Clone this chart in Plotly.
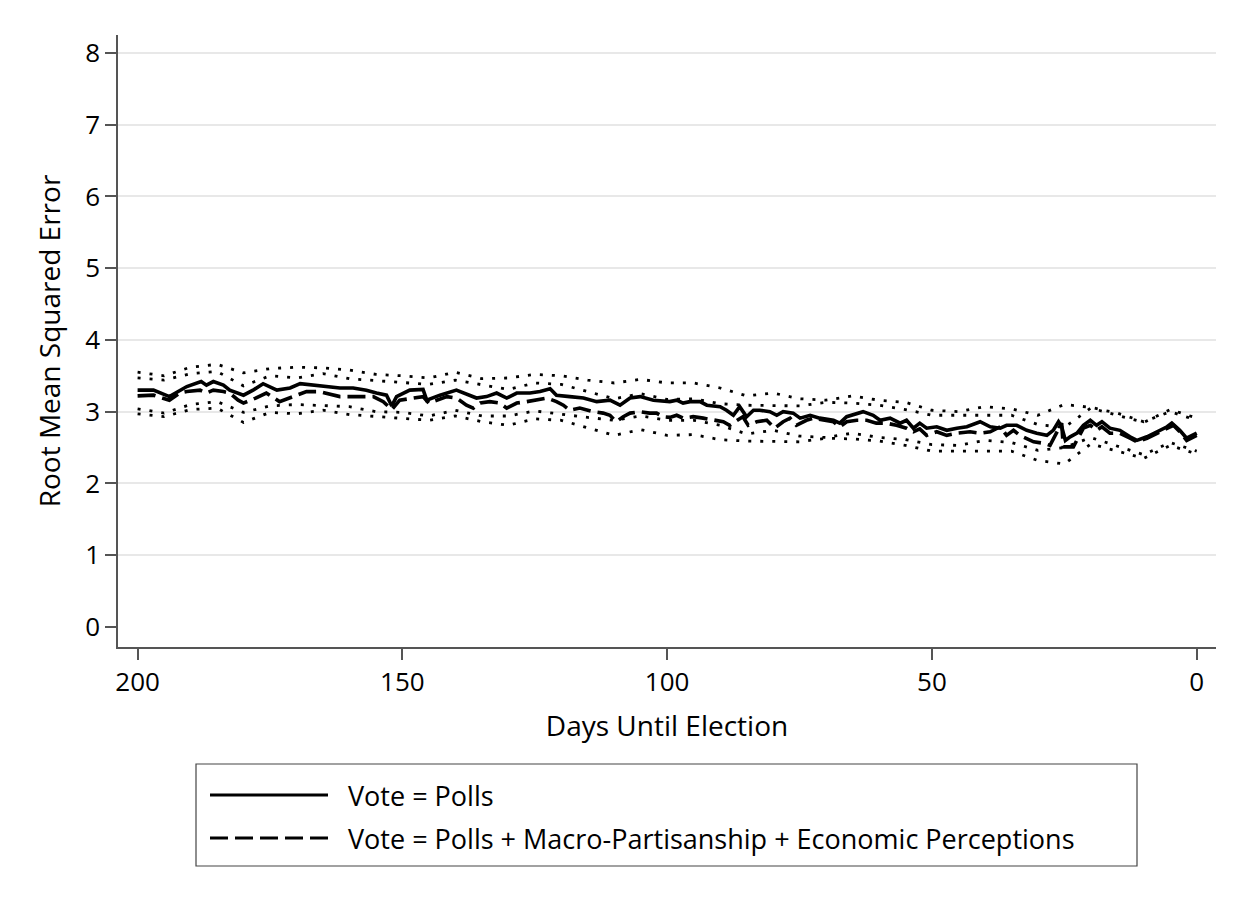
import plotly.graph_objects as go

# Vote = Polls (solid line), days until election and RMSE
poll_days = [200, 197, 194, 192, 190.7, 188, 187, 185.7, 183.8, 182.6,
             180, 178.2, 176.3, 173.7, 171.2, 169.3, 166.8, 164.3, 161.8, 159.3,
             156.8, 154.9, 153, 152, 151.1, 148.6, 146.1, 145.4, 142.9, 139.8,
             137.2, 136, 134.1, 132.2, 130.3, 128.4, 125.9, 124, 122.1, 120.9,
             118.4, 115.8, 113.3, 110.8, 108.9, 107, 105.1, 102.6, 99.5, 98.2,
             97, 95.7, 93.8, 92.5, 90, 88.8, 87.5, 86.3, 85, 83.7,
             82.5, 80.6, 79.3, 78.1, 76.2, 74.9, 73, 71.2, 68.6, 67.4,
             66.1, 64.2, 63, 61.1, 59.8, 57.9, 56, 54.8, 53.5, 52.3,
             51, 49.1, 47.2, 45.3, 43.4, 40.9, 39, 37.1, 35.9, 34,
             32.1, 30.2, 28.3, 27.1, 26.1, 25.5, 24.8, 23.9, 22.6, 21.4,
             20.1, 18.9, 17.9, 16.4, 14.5, 12.6, 11.3, 9.4, 7.5, 5.6,
             4.7, 3.2, 1.9, 0]
poll_rmse = [3.30, 3.30, 3.21, 3.30, 3.35, 3.42, 3.37, 3.42, 3.37, 3.30,
             3.23, 3.30, 3.39, 3.30, 3.33, 3.39, 3.37, 3.35, 3.33, 3.33,
             3.30, 3.26, 3.23, 3.08, 3.21, 3.30, 3.31, 3.16, 3.23, 3.30,
             3.23, 3.19, 3.21, 3.26, 3.19, 3.26, 3.26, 3.28, 3.32, 3.23,
             3.21, 3.19, 3.14, 3.16, 3.09, 3.19, 3.21, 3.16, 3.14, 3.16,
             3.12, 3.14, 3.14, 3.09, 3.07, 3.02, 2.95, 3.07, 2.93, 3.02,
             3.02, 3.00, 2.95, 3.00, 2.98, 2.91, 2.95, 2.91, 2.88, 2.84,
             2.93, 2.98, 3.00, 2.95, 2.88, 2.91, 2.84, 2.88, 2.77, 2.84,
             2.77, 2.79, 2.74, 2.77, 2.79, 2.86, 2.79, 2.77, 2.81, 2.81,
             2.74, 2.70, 2.67, 2.74, 2.86, 2.79, 2.60, 2.65, 2.70, 2.81,
             2.88, 2.81, 2.86, 2.77, 2.74, 2.65, 2.60, 2.65, 2.72, 2.79,
             2.84, 2.74, 2.63, 2.70]

# Vote = Polls + Macro-Partisanship + Economic Perceptions (dashed line)
full_days = [200, 197, 194, 192, 190.7, 188.2, 187, 185.7, 183.8, 182.6,
             181, 180, 177.7, 175.7, 173.2, 170.6, 168.1, 165.6, 164.3, 161.8,
             159.3, 158.1, 155.5, 153.6, 152, 150.5, 146.1, 145, 143.5, 141.6,
             139.8, 137.9, 136.6, 135.3, 133.5, 131.6, 130.3, 128.4, 126.5, 124.6,
             122.7, 120.9, 119.6, 118.4, 116.5, 114, 112.1, 110.8, 109.6, 108.3,
             107, 105.1, 103.3, 102, 100.8, 99.5, 98.2, 97, 95.1, 93.2,
             91.3, 89.4, 88.2, 86.9, 85.7, 84.7, 83.1, 81.2, 79.7, 78.1,
             76.8, 75.6, 73.7, 72.4, 70.5, 68.6, 67.4, 66.1, 64.2, 62.3,
             60.5, 58.6, 56.7, 54.8, 53.5, 52.3, 51, 49.1, 47.2, 45.3,
             42.8, 40.9, 39, 37.1, 35.9, 34.6, 33.4, 30.8, 28.9, 27.7,
             26.5, 25.5, 25.2, 23.3, 21.4, 20.1, 18.9, 17.9, 16.4, 14.5,
             12.6, 11.3, 9.4, 7.5, 5.6, 4.4, 3.2, 1.9, 0]
full_rmse = [3.22, 3.23, 3.16, 3.26, 3.28, 3.30, 3.26, 3.30, 3.28, 3.26,
             3.16, 3.12, 3.19, 3.26, 3.14, 3.21, 3.28, 3.28, 3.26, 3.21,
             3.21, 3.21, 3.21, 3.14, 3.03, 3.16, 3.21, 3.12, 3.16, 3.21,
             3.19, 3.09, 3.05, 3.12, 3.14, 3.12, 3.05, 3.12, 3.14, 3.16,
             3.19, 3.14, 3.09, 3.02, 3.05, 3.00, 2.98, 2.95, 2.86, 2.93,
             2.98, 3.00, 2.98, 2.98, 2.93, 2.92, 2.95, 2.91, 2.93, 2.91,
             2.88, 2.86, 2.81, 2.88, 2.93, 2.81, 2.86, 2.88, 2.77, 2.86,
             2.91, 2.81, 2.88, 2.91, 2.88, 2.86, 2.79, 2.86, 2.88, 2.88,
             2.84, 2.84, 2.81, 2.77, 2.72, 2.76, 2.67, 2.72, 2.67, 2.70,
             2.72, 2.70, 2.72, 2.79, 2.67, 2.74, 2.67, 2.58, 2.56, 2.53,
             2.70, 2.84, 2.51, 2.51, 2.77, 2.81, 2.74, 2.79, 2.70, 2.70,
             2.63, 2.58, 2.63, 2.70, 2.77, 2.81, 2.72, 2.60, 2.67]

# confidence bounds (dotted), every 5 days from 200 down to 0
band_days = [200, 195, 190, 185, 180, 175, 170, 165, 160, 155,
             150, 145, 140, 135, 130, 125, 120, 115, 110, 105,
             100, 95, 90, 85, 80, 75, 70, 65, 60, 55,
             50, 45, 40, 35, 30, 25, 20, 15, 10, 5, 0]
poll_hi = [3.55, 3.50, 3.62, 3.66, 3.54, 3.60, 3.62, 3.61, 3.58, 3.52,
           3.50, 3.47, 3.55, 3.46, 3.47, 3.52, 3.50, 3.44, 3.40, 3.45,
           3.40, 3.40, 3.33, 3.22, 3.26, 3.18, 3.16, 3.22, 3.16, 3.13,
           3.02, 3.00, 3.07, 3.04, 2.95, 3.10, 3.06, 2.98, 2.86, 3.00, 2.88]
poll_lo = [3.04, 2.98, 3.10, 3.14, 2.99, 3.08, 3.10, 3.09, 3.07, 3.00,
           2.99, 2.94, 3.02, 2.94, 2.94, 3.01, 2.96, 2.92, 2.88, 2.94,
           2.88, 2.88, 2.81, 2.69, 2.74, 2.66, 2.64, 2.70, 2.64, 2.61,
           2.54, 2.53, 2.60, 2.57, 2.46, 2.50, 2.64, 2.52, 2.40, 2.57, 2.45]
full_hi = [3.47, 3.44, 3.53, 3.56, 3.36, 3.50, 3.47, 3.53, 3.46, 3.43,
           3.41, 3.38, 3.44, 3.37, 3.31, 3.40, 3.38, 3.28, 3.18, 3.25,
           3.17, 3.18, 3.11, 3.09, 3.09, 3.08, 3.13, 3.12, 3.09, 3.03,
           2.95, 2.95, 2.96, 2.95, 2.82, 2.78, 3.05, 2.95, 2.85, 3.03, 2.91]
full_lo = [2.97, 2.93, 3.03, 3.05, 2.85, 2.99, 2.97, 3.02, 2.96, 2.93,
           2.91, 2.88, 2.94, 2.86, 2.81, 2.90, 2.88, 2.78, 2.67, 2.75,
           2.67, 2.68, 2.61, 2.59, 2.59, 2.58, 2.63, 2.62, 2.59, 2.53,
           2.45, 2.45, 2.46, 2.45, 2.32, 2.27, 2.55, 2.45, 2.35, 2.53, 2.41]

x_ticks = [200, 150, 100, 50, 0]
y_ticks = [0, 1, 2, 3, 4, 5, 6, 7, 8]
legend_labels = ["Vote = Polls",
                 "Vote = Polls + Macro-Partisanship + Economic Perceptions"]

FONT = "Open Sans"
DASH = "18px,7px"
dots = dict(color="black", width=2.8, dash="3px,9px")

fig = go.Figure()
for ys in [poll_hi, poll_lo, full_hi, full_lo]:
    fig.add_trace(go.Scatter(x=band_days, y=ys, mode="lines", line=dots,
                             showlegend=False, hoverinfo="skip"))
fig.add_trace(go.Scatter(x=full_days, y=full_rmse, mode="lines",
                         name=legend_labels[1],
                         line=dict(color="black", width=3.6, dash=DASH)))
fig.add_trace(go.Scatter(x=poll_days, y=poll_rmse, mode="lines",
                         name=legend_labels[0],
                         line=dict(color="black", width=3.6)))

# the page body has an 8px margin, so the figure sits at (8, 8);
# plot area in page pixels: x 118..1216, y 35..647
def px_x(p):
    return (p - 118) / 1098

def px_y(p):
    return (647 - p) / 612

# hand-drawn legend box below the plot (paper coordinates)
shapes = [dict(type="rect", xref="paper", yref="paper",
               x0=px_x(196), x1=px_x(1137), y0=px_y(764), y1=px_y(866),
               line=dict(color="#444", width=1.2))]
annotations = []
for i, (label, dash) in enumerate(zip(legend_labels, ["solid", DASH])):
    yy = px_y(795 + 43 * i)
    shapes.append(dict(type="line", xref="paper", yref="paper",
                       x0=px_x(210), x1=px_x(328), y0=yy, y1=yy,
                       line=dict(color="black", width=3, dash=dash)))
    annotations.append(dict(text=label, xref="paper", yref="paper",
                            x=px_x(346), y=yy, xanchor="left", yanchor="middle",
                            showarrow=False,
                            font=dict(size=27, color="black", family=FONT)))

fig.update_layout(
    width=1240, height=899,
    margin=dict(l=110, r=32, t=27, b=260),
    paper_bgcolor="white", plot_bgcolor="white",
    showlegend=False,
    font=dict(family=FONT, size=23, color="black"),
    shapes=shapes, annotations=annotations,
    xaxis=dict(range=[203.7, -3.64], tickvals=x_ticks, showgrid=False,
               zeroline=False, showline=True, linecolor="#555", linewidth=1.5,
               ticks="outside", ticklen=11, tickwidth=1.5, tickcolor="#555",
               tickfont=dict(size=26),
               title=dict(text="Days Until Election", standoff=18)),
    yaxis=dict(range=[-0.28, 8.25], tickvals=y_ticks, showgrid=True,
               gridcolor="#e8e8e8", gridwidth=2,
               zeroline=True, zerolinecolor="white", zerolinewidth=3,
               showline=True, linecolor="#555", linewidth=1.5,
               ticks="outside", ticklen=11, tickwidth=1.5, tickcolor="#555",
               tickfont=dict(size=26),
               title=dict(text="Root Mean Squared Error", standoff=16)),
)

fig.write_html("out.html")
